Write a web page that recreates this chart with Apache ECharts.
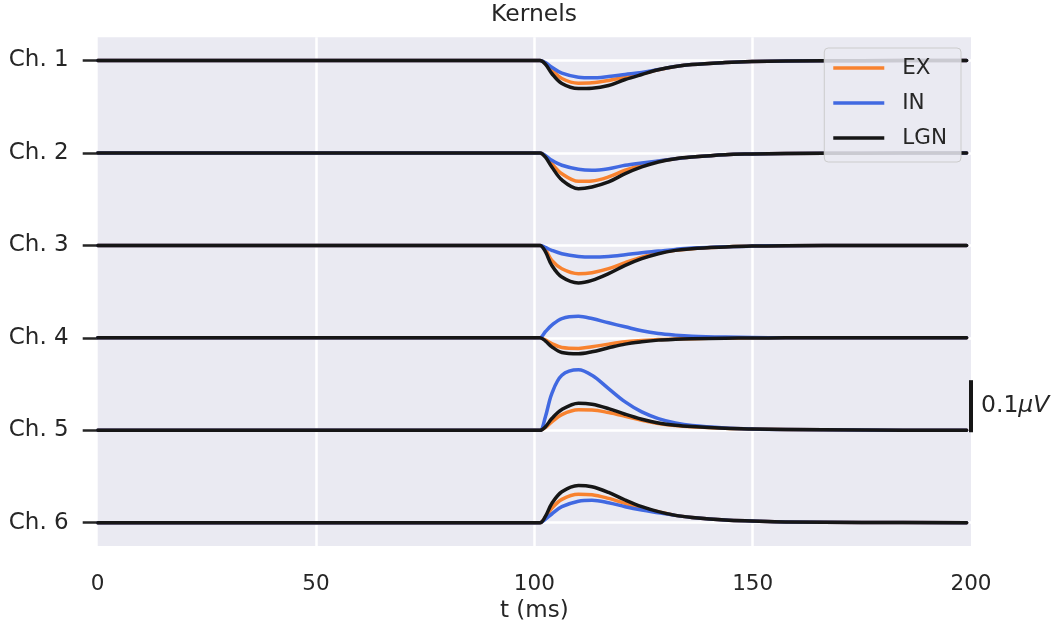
<!DOCTYPE html>
<html><head><meta charset="utf-8">
<script src="https://cdn.jsdelivr.net/npm/echarts@6/dist/echarts.min.js"></script>
<style>html,body{margin:0;padding:0;background:#fff}#c{width:1056px;height:634px}</style>
</head><body><div id="c"></div>
<script>
// time axis (ms)
const timeMs = [0, 100, 101.3, 102.5, 104, 106.3, 110.1, 113.2, 117, 120.8, 124.6, 128.4, 132.3, 136.1, 143.7, 149.8, 157.5, 175, 199];
const channelNames = ['Ch. 1', 'Ch. 2', 'Ch. 3', 'Ch. 4', 'Ch. 5', 'Ch. 6'];
const xTicks = [0, 50, 100, 150, 200];
const channelSpacing = 0.1923; // vertical offset between channels (µV)
const scaleBarValue = 0.1;     // µV
const scaleBarLabel = '0.1';
const scaleBarUnit = 'μV';

// EX population kernels (µV), one row per channel
const exKernels = [
  [0,0,0,-0.0052,-0.0193,-0.0374,-0.0472,-0.0464,-0.0416,-0.0347,-0.0277,-0.0193,-0.0125,-0.0083,-0.0042,-0.0021,-0.001,-0.0004,0],
  [0,0,0,-0.0062,-0.0223,-0.0431,-0.0589,-0.0582,-0.0499,-0.036,-0.0256,-0.0173,-0.0119,-0.0083,-0.0035,-0.0021,-0.001,-0.0004,0],
  [0,0,0,-0.0083,-0.0312,-0.0485,-0.0589,-0.0568,-0.0485,-0.036,-0.0243,-0.016,-0.0104,-0.0069,-0.0035,-0.0015,-0.0006,0,0],
  [0,0,0,-0.0042,-0.0119,-0.0202,-0.022,-0.0187,-0.0131,-0.0083,-0.0056,-0.0035,-0.0025,-0.0017,-0.0006,0,0,0,0],
  [0,0,0,0.0056,0.0173,0.0327,0.0426,0.0422,0.0368,0.0291,0.0208,0.0139,0.0098,0.0073,0.0042,0.0027,0.0015,0.0004,0],
  [0,0,0,0.011,0.0297,0.0485,0.0593,0.0582,0.0505,0.0401,0.0297,0.0229,0.0152,0.011,0.0056,0.0035,0.0015,0.0004,0]
];
// IN population kernels (µV)
const inKernels = [
  [0,0,0,-0.0042,-0.0139,-0.0264,-0.0347,-0.036,-0.0333,-0.0291,-0.025,-0.0187,-0.0125,-0.0083,-0.0042,-0.0021,-0.001,-0.0004,0],
  [0,0,0,-0.0052,-0.0152,-0.0256,-0.0339,-0.036,-0.0327,-0.0256,-0.0208,-0.0166,-0.0119,-0.0083,-0.0035,-0.0021,-0.001,-0.0004,0],
  [0,0,0,-0.0042,-0.0104,-0.0173,-0.0229,-0.0243,-0.0229,-0.0193,-0.0152,-0.0119,-0.0083,-0.0056,-0.0027,-0.0015,-0.0006,0,0],
  [0,0,0,0.0125,0.0264,0.0401,0.0447,0.0401,0.0312,0.0229,0.0146,0.0089,0.0056,0.0035,0.0015,0.0006,0,0,0],
  [0,0,0,0.027,0.0763,0.1144,0.1258,0.1144,0.0867,0.0589,0.0381,0.0243,0.0152,0.0098,0.0048,0.0027,0.0015,0.0004,0],
  [0,0,0,0.0069,0.0181,0.0333,0.0447,0.0468,0.0416,0.0333,0.0264,0.0208,0.0152,0.011,0.0056,0.0035,0.0015,0.0004,0]
];
// LGN kernels (µV)
const lgnKernels = [
  [0,0,0,-0.0073,-0.027,-0.0478,-0.0582,-0.0576,-0.052,-0.0395,-0.0291,-0.0193,-0.0125,-0.0083,-0.0042,-0.0021,-0.001,-0.0004,0],
  [0,0,0,-0.0083,-0.0291,-0.0562,-0.0743,-0.0707,-0.0603,-0.0431,-0.0291,-0.0187,-0.0119,-0.0083,-0.0035,-0.0021,-0.001,-0.0004,0],
  [0,0,0,-0.0125,-0.0416,-0.0659,-0.078,-0.0728,-0.0589,-0.0416,-0.0277,-0.0173,-0.0104,-0.0069,-0.0035,-0.0015,-0.0006,0,0],
  [0,0,0,-0.0062,-0.0187,-0.0306,-0.0333,-0.0291,-0.0208,-0.0131,-0.0083,-0.0048,-0.0031,-0.0021,-0.0008,-0.0004,0,0,0],
  [0,0,0,0.0069,0.0243,0.0431,0.0562,0.0541,0.0451,0.0333,0.0229,0.0152,0.0104,0.0077,0.0042,0.0027,0.0015,0.0004,0],
  [0,0,0,0.0125,0.0401,0.0645,0.0776,0.0749,0.063,0.0472,0.0333,0.0229,0.0152,0.011,0.0056,0.0035,0.0015,0.0004,0]
];

const populations = [
  {name: 'EX', color: '#f8822f', data: exKernels},
  {name: 'IN', color: '#4169e1', data: inKernels},
  {name: 'LGN', color: '#161616', data: lgnKernels}
];
const nCh = channelNames.length;
const offsets = channelNames.map((_, i) => (nCh - 1 - i) * channelSpacing);
const textColor = '#262626';
const fontFamily = '"DejaVu Sans", sans-serif';

const series = [];
for (let c = 0; c < nCh; c++) {
  populations.forEach(p => {
    series.push({
      name: p.name, type: 'line', color: p.color,
      showSymbol: false, symbol: 'none', smooth: 0.35,
      lineStyle: {width: 3.5, color: p.color, cap: 'round', join: 'round'},
      z: 3, silent: true, animation: false,
      data: timeMs.map((t, i) => [t, p.data[c][i] + offsets[c]])
    });
  });
}
// scale bar
const sbBase = offsets[nCh - 2];
series.push({
  name: 'scalebar', type: 'line', clip: false, symbol: 'none', silent: true, animation: false,
  lineStyle: {width: 4, color: '#161616', cap: 'square'}, z: 5,
  data: [[200, sbBase], [200, sbBase + scaleBarValue]]
});
series.push({
  name: 'scalelabel', type: 'scatter', clip: false, symbolSize: 0, silent: true, animation: false,
  itemStyle: {color: textColor, opacity: 1},
  label: {show: true, position: 'right', distance: 10, color: textColor, opacity: 1,
    formatter: '{a|' + scaleBarLabel + '}{b|' + scaleBarUnit + '}',
    rich: {
      a: {fontSize: 23.5, color: textColor, fontFamily: fontFamily},
      b: {fontSize: 23.5, color: textColor, fontFamily: fontFamily, fontStyle: 'italic'}
    }},
  data: [[200, sbBase + scaleBarValue / 2]]
});

const chart = echarts.init(document.getElementById('c'), null, {renderer: 'canvas'});
chart.setOption({
  animation: false,
  backgroundColor: '#ffffff',
  textStyle: {fontFamily: fontFamily},
  title: {text: 'Kernels', left: 534, textAlign: 'center', top: 3, padding: 0,
    textStyle: {fontSize: 23.5, fontWeight: 'normal', color: textColor, fontFamily: fontFamily}},
  legend: {
    data: populations.map(p => p.name), orient: 'vertical', right: 95, top: 48,
    icon: 'rect', itemWidth: 51, itemHeight: 3.5, itemGap: 11,
    padding: [8, 14, 12, 9], backgroundColor: 'rgba(234,234,242,0.85)',
    borderColor: '#cccccc', borderWidth: 1, borderRadius: 4,
    textStyle: {fontSize: 21.5, color: textColor, fontFamily: fontFamily, lineHeight: 24, padding: [0, 0, 0, 13]}
  },
  grid: {left: 97.7, right: 85, top: 37.3, bottom: 88, show: true, backgroundColor: '#eaeaf2', borderWidth: 0, containLabel: false},
  xAxis: {
    type: 'value', min: 0, max: 200, interval: 50,
    name: 't (ms)', nameLocation: 'middle', nameGap: 54,
    nameTextStyle: {fontSize: 23, color: textColor, fontFamily: fontFamily},
    axisLine: {show: false}, axisTick: {show: false},
    axisLabel: {fontSize: 21.5, color: textColor, margin: 27, fontFamily: fontFamily,
      customValues: xTicks},
    splitLine: {show: true, showMinLine: false, showMaxLine: false, lineStyle: {color: '#ffffff', width: 2.5}}
  },
  yAxis: {
    type: 'value', min: -0.0485, max: 1.0098, offset: 2,
    axisLine: {show: false},
    axisTick: {show: true, length: 15, lineStyle: {color: textColor, width: 2.5}, customValues: offsets},
    axisLabel: {fontSize: 23, color: textColor, margin: 27, fontFamily: fontFamily, customValues: offsets,
      formatter: v => channelNames[nCh - 1 - Math.round(v / channelSpacing)]},
    splitLine: {show: true, lineStyle: {color: '#ffffff', width: 2.5}}
  },
  series: series
});
</script></body></html>
